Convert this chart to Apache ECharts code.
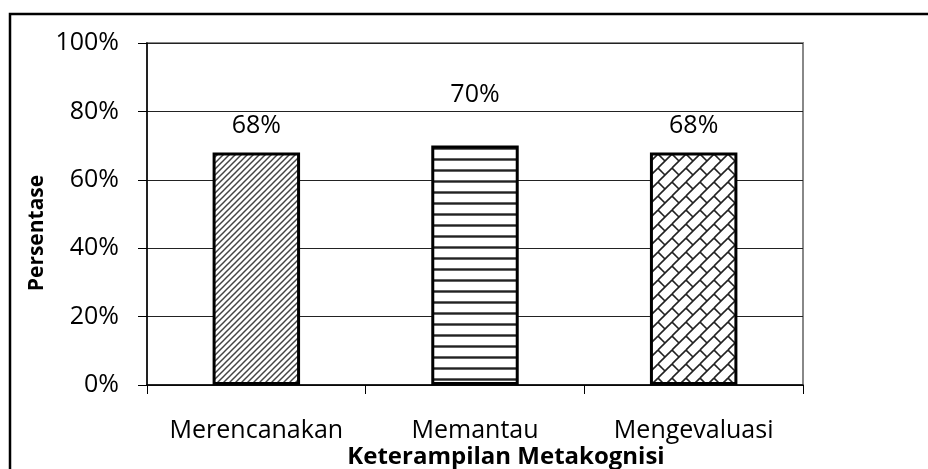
<!DOCTYPE html>
<html>
<head>
<meta charset="utf-8">
<script src="https://cdn.jsdelivr.net/npm/echarts@6/dist/echarts.min.js"></script>
<style>
  html, body { margin: 0; padding: 0; background: #fff; }
  #chart { width: 928px; height: 469px; }
</style>
</head>
<body>
<div id="chart"></div>
<script>
// data
const categories = ['Merencanakan', 'Memantau', 'Mengevaluasi'];
const values = [0.68, 0.70, 0.68];
const labelGaps = [14, 38, 14];

// fill patterns
function makeTile(size, draw) {
  const c = document.createElement('canvas');
  c.width = size;
  c.height = size;
  const ctx = c.getContext('2d');
  ctx.fillStyle = '#fff';
  ctx.fillRect(0, 0, size, size);
  ctx.strokeStyle = '#222';
  draw(ctx, size);
  return c;
}

const hatch = makeTile(6, (ctx, s) => {
  ctx.lineWidth = 1.5;
  ctx.strokeStyle = '#444';
  for (let k = -1; k <= 1; k++) {
    ctx.beginPath();
    ctx.moveTo(k * s - 1, s + 1);
    ctx.lineTo(k * s + s + 1, -1);
    ctx.stroke();
  }
});

const stripes = makeTile(11, (ctx, s) => {
  ctx.lineWidth = 2.4;
  ctx.beginPath();
  ctx.moveTo(0, 5.5);
  ctx.lineTo(s, 5.5);
  ctx.stroke();
});

const bricks = makeTile(14, (ctx, s) => {
  ctx.lineWidth = 1.6;
  for (let i = -1; i <= 1; i++) {
    for (let j = -1; j <= 1; j++) {
      const ox = i * s, oy = j * s;
      ctx.beginPath();
      ctx.moveTo(ox + s, oy);
      ctx.lineTo(ox, oy + s);
      ctx.stroke();
      ctx.beginPath();
      ctx.moveTo(ox, oy);
      ctx.lineTo(ox + s / 2, oy + s / 2);
      ctx.stroke();
    }
  }
});

const fills = [hatch, stripes, bricks];

const font = '"Open Sans", sans-serif';
const chart = echarts.init(document.getElementById('chart'));

chart.setOption({
  animation: false,
  backgroundColor: '#fff',
  textStyle: { fontFamily: font, color: '#000' },
  graphic: [{
    type: 'rect',
    shape: { x: 10, y: 14, width: 1000, height: 1000 },
    style: { fill: 'none', stroke: '#000', lineWidth: 2.5 },
    silent: true
  }],
  grid: {
    left: 147,
    right: 125,
    top: 43,
    bottom: 84,
    outerBoundsMode: 'none',
    containLabel: false,
    show: true,
    borderColor: '#888',
    borderWidth: 2
  },
  xAxis: {
    type: 'category',
    data: categories,
    name: 'Keterampilan Metakognisi',
    nameLocation: 'middle',
    nameGap: 60,
    nameMoveOverlap: false,
    nameTextStyle: {
      fontFamily: font, fontSize: 24, fontWeight: 'bold', color: '#000',
      padding: [0, 0, 0, 62]
    },
    axisLine: { lineStyle: { color: '#000', width: 1.5 } },
    axisTick: { show: true, length: 9, alignWithLabel: false, lineStyle: { color: '#000' } },
    axisLabel: { fontFamily: font, fontSize: 25, color: '#000', margin: 33, interval: 0 }
  },
  yAxis: {
    type: 'value',
    min: 0,
    max: 1,
    interval: 0.2,
    name: 'Persentase',
    nameLocation: 'middle',
    nameGap: 99,
    nameMoveOverlap: false,
    nameTextStyle: {
      fontFamily: font, fontSize: 21, fontWeight: 'bold', color: '#000',
      padding: [0, 38, 0, 0]
    },
    axisLine: { show: true, lineStyle: { color: '#000', width: 1.5 } },
    axisTick: { show: true, length: 9, lineStyle: { color: '#000' } },
    axisLabel: {
      fontFamily: font,
      fontSize: 25,
      color: '#000',
      margin: 28,
      formatter: v => Math.round(v * 100) + '%'
    },
    splitLine: { lineStyle: { color: '#222', width: 1 } }
  },
  series: [{
    type: 'bar',
    barWidth: '40%',
    data: values.map((v, i) => ({
      value: v,
      itemStyle: {
        color: { image: fills[i], repeat: 'repeat' },
        borderColor: '#000',
        borderWidth: 3
      },
      label: { distance: labelGaps[i] }
    })),
    label: {
      show: true,
      position: 'top',
      fontFamily: font,
      fontSize: 25,
      color: '#000',
      formatter: p => Math.round(p.value * 100) + '%'
    }
  }]
});
</script>
</body>
</html>
